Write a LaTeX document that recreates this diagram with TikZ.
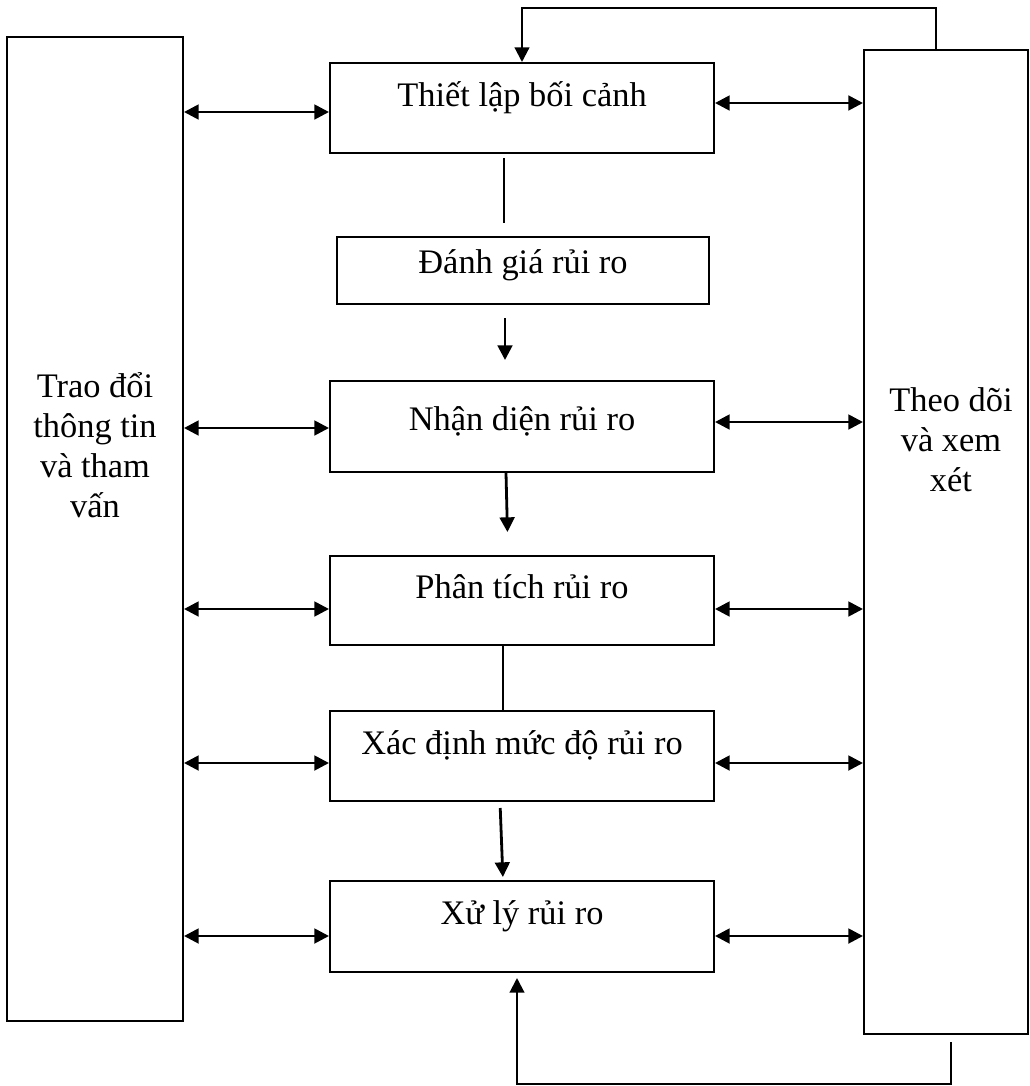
\documentclass[tikz,border=0pt]{standalone}
\usepackage{fontspec}
\setmainfont{Liberation Serif}
\usetikzlibrary{arrows.meta}
\newcommand{\mainsz}{\fontsize{25.8pt}{30pt}\selectfont}
\begin{document}
\begin{tikzpicture}[x=0.75pt,y=-0.75pt,
  stage/.style={draw, line width=1.5pt, inner sep=0pt, minimum width=288pt, font=\mainsz},
  side/.style={draw, line width=1.5pt, inner sep=0pt, minimum height=738pt},
  sidetext/.style={anchor=base, align=center, font=\mainsz, inner sep=0pt},
  tip/.style={-{Triangle[length=11pt,width=11pt]}, line width=2.1pt},
  dbl/.style={{Triangle[length=11pt,width=11pt]}-{Triangle[length=11pt,width=11pt]}, line width=2.1pt},
  plain/.style={line width=2.1pt}]
\useasboundingbox (0,0) rectangle (1030,1086);
% side boxes
\node[side, minimum width=132pt] (L) at (95,529) {};
\node[side, minimum width=123pt] (R) at (946,542) {};
\node[sidetext] (Ltext) at (95,517) {Trao đổi\\thông tin\\và tham\\vấn};
\node[sidetext] (Rtext) at (951,491) {Theo dõi\\và xem\\xét};
% central stages
\node[stage, text height=32.25pt, text depth=35.25pt] (T) at (522,108) {Thiết lập bối cảnh};
\node[stage, minimum width=279pt, text height=27pt, text depth=23.25pt] (D) at (523,270.5) {Đánh giá rủi ro};
\node[stage, text height=36.75pt, text depth=31.5pt] (N) at (522,426.5) {Nhận diện rủi ro};
\node[stage, text height=31.5pt, text depth=35.25pt] (P) at (522,600.5) {Phân tích rủi ro};
\node[stage, text height=32.25pt, text depth=35.25pt] (X) at (522,756) {Xác định mức độ rủi ro};
\node[stage, text height=32.25pt, text depth=36pt] (XL) at (522,926.5) {Xử lý rủi ro};
% left double arrows
\draw[dbl] (L.east |- 0,112) -- (T.west |- 0,112);
\draw[dbl] (L.east |- 0,428) -- (N.west |- 0,428);
\draw[dbl] (L.east |- 0,609) -- (P.west |- 0,609);
\draw[dbl] (L.east |- 0,763) -- (X.west |- 0,763);
\draw[dbl] (L.east |- 0,936) -- (XL.west |- 0,936);
% right double arrows
\draw[dbl] (T.east |- 0,103) -- (R.west |- 0,103);
\draw[dbl] (N.east |- 0,422) -- (R.west |- 0,422);
\draw[dbl] (P.east |- 0,609) -- (R.west |- 0,609);
\draw[dbl] (X.east |- 0,763) -- (R.west |- 0,763);
\draw[dbl] (XL.east |- 0,936) -- (R.west |- 0,936);
% central connectors
\draw[plain, shorten <=3pt, shorten >=9.75pt] (T.south -| 504,0) -- (D.north -| 504,0);
\draw[tip, shorten <=9.75pt, shorten >=15pt] (D.south -| 505,0) -- (N.north -| 505,0);
\draw[tip, shorten >=17.25pt] (N.south -| 506,0) -- (P.north -| 508,0);
\draw[plain] (P.south -| 503,0) -- (X.north -| 503,0);
\draw[tip, shorten <=4.5pt, shorten >=2.25pt] (X.south -| 500,0) -- (XL.north -| 503,0);
% feedback loops
\draw[tip, line width=1.6pt] (R.north -| 936,0) |- (T.north |- 0,8) -- (T.north);
\coordinate (fbstart) at (951,1042);
\draw[tip, line width=1.6pt, shorten >=3.75pt] (fbstart) |- (517,1084) -- (XL.south -| 517,0);
\end{tikzpicture}
\end{document}
